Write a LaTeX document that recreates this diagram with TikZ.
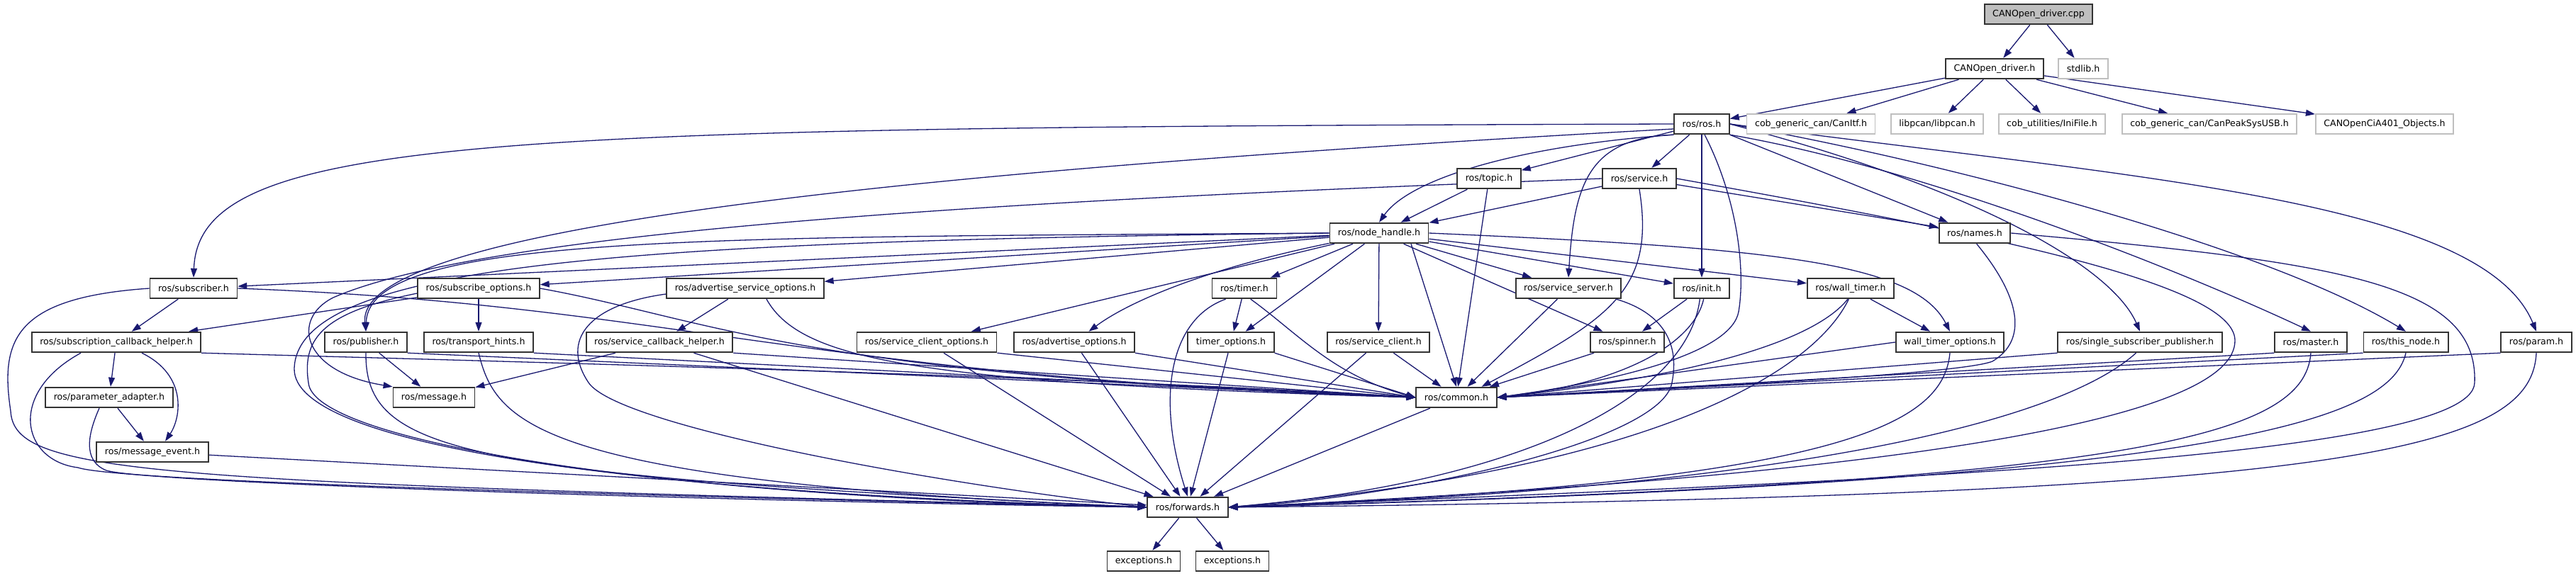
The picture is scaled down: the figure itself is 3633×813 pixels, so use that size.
\documentclass[tikz,border=0pt]{standalone}
\usepackage{fontspec}
\setmainfont{DejaVu Sans}
\usepackage{tikz}
\usetikzlibrary{arrows.meta}
\pgfdeclarelayer{background}
\pgfsetlayers{background,main}

\definecolor{edgeblue}{HTML}{191970}
\definecolor{grey75}{HTML}{BFBFBF}

\begin{document}
\begin{tikzpicture}[
        x=1pt, y=-1pt,
        file/.style={rectangle, draw=black!80, line width=1.8pt, fill=white, minimum height=28.6pt, inner xsep=11.5pt, inner ysep=0pt, font=\fontsize{12.6pt}{15pt}\selectfont},
        extfile/.style={file, draw=grey75},
        rootfile/.style={file, fill=grey75},
        arrow/.style={draw=edgeblue, line width=1.3pt, -{Triangle[length=13pt, width=9pt, fill=edgeblue]}}
    ]
        \useasboundingbox (0,0) rectangle (3633,813);

        % 1. Source file and its header
        \node (cpp) [rootfile] at (2875,20) {CANOpen\_driver.cpp};
        \node (drvh) [file] at (2813,97) {CANOpen\_driver.h};
        \node (stdlib) [extfile] at (2938,97) {stdlib.h};

        % 2. Headers of CANOpen_driver.h
        \node (rosh) [file] at (2400,175) {ros/ros.h};
        \node (canitf) [extfile] at (2554,175) {cob\_generic\_can/CanItf.h};
        \node (libpcan) [extfile] at (2732,175) {libpcan/libpcan.h};
        \node (inifile) [extfile] at (2894,175) {cob\_utilities/IniFile.h};
        \node (peak) [extfile] at (3116,175) {cob\_generic\_can/CanPeakSysUSB.h};
        \node (cia) [extfile] at (3363,175) {CANOpenCiA401\_Objects.h};

        % 3. roscpp upper layer
        \node (topic) [file] at (2100,252) {ros/topic.h};
        \node (service) [file] at (2312,252) {ros/service.h};
        \node (nh) [file] at (1945,329) {ros/node\_handle.h};
        \node (names) [file] at (2785,329) {ros/names.h};

        % 4. roscpp middle layer
        \node (sub) [file] at (273,407) {ros/subscriber.h};
        \node (subopt) [file] at (675,407) {ros/subscribe\_options.h};
        \node (advsrvopt) [file] at (1051,407) {ros/advertise\_service\_options.h};
        \node (timer) [file] at (1755,407) {ros/timer.h};
        \node (srvserver) [file] at (2212,407) {ros/service\_server.h};
        \node (init) [file] at (2400,407) {ros/init.h};
        \node (walltimer) [file] at (2610,407) {ros/wall\_timer.h};

        \node (subcb) [file] at (164,483) {ros/subscription\_callback\_helper.h};
        \node (pub) [file] at (516,483) {ros/publisher.h};
        \node (hints) [file] at (675,483) {ros/transport\_hints.h};
        \node (srvcb) [file] at (930,483) {ros/service\_callback\_helper.h};
        \node (srvcliopt) [file] at (1307,483) {ros/service\_client\_options.h};
        \node (advopt) [file] at (1515,483) {ros/advertise\_options.h};
        \node (timeropt) [file] at (1736,483) {timer\_options.h};
        \node (srvclient) [file] at (1944,483) {ros/service\_client.h};
        \node (spinner) [file] at (2295,483) {ros/spinner.h};
        \node (walltimeropt) [file] at (2750,483) {wall\_timer\_options.h};
        \node (ssp) [file] at (3018,483) {ros/single\_subscriber\_publisher.h};
        \node (master) [file] at (3259,483) {ros/master.h};
        \node (thisnode) [file] at (3393,483) {ros/this\_node.h};
        \node (param) [file] at (3577,483) {ros/param.h};

        % 5. roscpp base layer
        \node (paramad) [file] at (154,561) {ros/parameter\_adapter.h};
        \node (message) [file] at (612,561) {ros/message.h};
        \node (common) [file] at (2054,561) {ros/common.h};
        \node (msgevent) [file] at (215,638) {ros/message\_event.h};
        \node (fwd) [file] at (1675,716) {ros/forwards.h};
        \node (exc1) [file] at (1613,792) {exceptions.h};
        \node (exc2) [file] at (1738,792) {exceptions.h};

        % Connections
        \begin{pgfonlayer}{background}
        \draw [arrow] (cpp) -- (drvh);
        \draw [arrow] (cpp) -- (stdlib);
        \draw [arrow] (drvh) -- (rosh);
        \draw [arrow] (drvh) -- (canitf);
        \draw [arrow] (drvh) -- (libpcan);
        \draw [arrow] (drvh) -- (inifile);
        \draw [arrow] (drvh) -- (peak);
        \draw [arrow] (drvh) -- (cia);

        \draw [arrow] (rosh.west) .. controls (700,180) and (280,190) .. (sub.north);
        \draw [arrow] (rosh.190) .. controls (1300,240) and (500,320) .. (pub.north);
        \draw [arrow] (rosh.south west) .. controls (2150,205) and (1990,250) .. (nh.north);
        \draw [arrow] (rosh) -- (topic);
        \draw [arrow] (rosh) -- (service);
        \draw [arrow] (rosh.south west) .. controls (2240,195) and (2220,260) .. (srvserver.north);
        \draw [arrow] (rosh) -- (init);
        \draw [arrow] (rosh.-75) .. controls (2450,280) and (2462,380) .. (2452,440) .. controls (2442,495) and (2300,535) .. (common.east);
        \draw [arrow] (rosh.south east) -- (names);
        \draw [arrow] (rosh.east) .. controls (2800,270) and (2980,380) .. (ssp.north);
        \draw [arrow] (rosh.south east) .. controls (2700,235) and (3050,370) .. (master.north);
        \draw [arrow] (rosh.east) .. controls (2750,230) and (3200,350) .. (thisnode.north);
        \draw [arrow] (rosh.east) .. controls (3000,250) and (3500,280) .. (param.north);

        \draw [arrow] (topic) -- (nh);
        \draw [arrow] (topic) -- (common);
        \draw [arrow] (service) -- (nh);
        \draw [arrow] (service) -- (names);
        \draw [arrow] (service.south) .. controls (2335,410) and (2270,450) .. ([xshift=-22pt]common.north east);
        \draw [arrow] (service.east) .. controls (2800,330) and (3150,400) .. (3152,480) .. controls (3154,590) and (2700,670) .. (fwd.east);
        \draw [arrow] (service.west) .. controls (1500,280) and (700,320) .. (470,420) .. controls (410,450) and (425,525) .. (message.north west);

        \draw [arrow] (nh.west) .. controls (1000,335) and (520,330) .. (pub.north);
        \draw [arrow] (nh.west) .. controls (900,340) and (420,370) .. (415,520) .. controls (412,630) and (900,695) .. (fwd.west);
        \draw [arrow] (nh) -- (sub);
        \draw [arrow] (nh) -- (subopt);
        \draw [arrow] (nh) -- (advsrvopt);
        \draw [arrow] (nh) -- (srvcliopt);
        \draw [arrow] (nh) .. controls (1720,375) and (1600,420) .. (advopt);
        \draw [arrow] (nh) -- (timer);
        \draw [arrow] (nh) -- (timeropt);
        \draw [arrow] (nh) -- (srvclient);
        \draw [arrow] ([xshift=45pt]nh.south) -- (common.north);
        \draw [arrow] (nh) -- (srvserver);
        \draw [arrow] (nh) -- (spinner);
        \draw [arrow] (nh) -- (init);
        \draw [arrow] (nh) -- (walltimer);
        \draw [arrow] (nh.east) .. controls (2500,350) and (2700,370) .. (walltimeropt.north);

        \draw [arrow] (timer) -- (timeropt);
        \draw [arrow] (timer.-60) .. controls (1830,470) and (1880,530) .. (common.west);
        \draw [arrow] (timer.-150) .. controls (1650,450) and (1630,560) .. (fwd.north);
        \draw [arrow] (srvserver) -- (common);
        \draw [arrow] ([xshift=-8pt]srvserver.south east) .. controls (2340,440) and (2370,480) .. (2358,540) .. controls (2345,620) and (2000,700) .. (fwd.east);
        \draw [arrow] (init) -- (spinner);
        \draw [arrow] (init.-80) .. controls (2390,480) and (2300,540) .. (common.east);
        \draw [arrow] (init.-100) .. controls (2380,560) and (2150,680) .. (fwd.east);
        \draw [arrow] (walltimer) -- (walltimeropt);
        \draw [arrow] (walltimer.-105) .. controls (2560,480) and (2400,530) .. (common.east);
        \draw [arrow] (walltimer.-100) .. controls (2560,520) and (2350,660) .. (fwd.east);
        \draw [arrow] (walltimeropt.west) -- (common.east);
        \draw [arrow] (walltimeropt.south) .. controls (2740,600) and (2600,680) .. (fwd.east);
        \draw [arrow] (names.-80) .. controls (2850,420) and (2860,480) .. (2810,510) .. controls (2760,530) and (2300,550) .. (common.east);
        \draw [arrow] (names.east) .. controls (3300,370) and (3495,400) .. (3490,540) .. controls (3488,650) and (2600,680) .. (fwd.east);
        \draw [arrow] (ssp.south west) -- (common.east);
        \draw [arrow] (ssp.-110) .. controls (2900,600) and (2500,690) .. (fwd.east);
        \draw [arrow] (master.south west) -- (common.east);
        \draw [arrow] (master.south) .. controls (3250,620) and (3000,680) .. (fwd.east);
        \draw [arrow] (thisnode.south west) -- (common.east);
        \draw [arrow] (thisnode.south) .. controls (3370,600) and (3100,680) .. (fwd.east);
        \draw [arrow] (param.south west) -- (common.east);
        \draw [arrow] (param.south) .. controls (3570,640) and (3300,700) .. (fwd.east);
        \draw [arrow] (spinner) -- (common);

        \draw [arrow] (sub) -- (subcb);
        \draw [arrow] (sub.east) .. controls (950,430) and (1120,530) .. (common.west);
        \draw [arrow] (sub.west) .. controls (20,420) and (0,480) .. (15,580) .. controls (20,670) and (200,680) .. (fwd.west);
        \draw [arrow] (subcb) -- (paramad);
        \draw [arrow] ([xshift=36pt]subcb.south) .. controls (265,530) and (255,590) .. ([xshift=18pt]msgevent.north);
        \draw [arrow] (subcb.south east) .. controls (700,510) and (1500,530) .. (common.west);
        \draw [arrow] ([xshift=-50pt]subcb.south) .. controls (10,555) and (30,650) .. (110,660) .. controls (170,680) and (900,700) .. (fwd.west);
        \draw [arrow] (paramad) -- (msgevent);
        \draw [arrow] ([xshift=-14pt]paramad.south) .. controls (125,610) and (115,650) .. (150,664) .. controls (200,680) and (900,705) .. (fwd.west);
        \draw [arrow] (msgevent) -- (fwd);

        \draw [arrow] (subopt) -- (subcb);
        \draw [arrow] (subopt) -- (hints);
        \draw [arrow] (subopt.east) .. controls (1000,450) and (1120,530) .. (common.west);
        \draw [arrow] ([yshift=-7pt]subopt.west) .. controls (460,440) and (425,475) .. (435,540) .. controls (440,620) and (900,700) .. (fwd.west);
        \draw [arrow] (pub) -- (message);
        \draw [arrow] (pub.south) .. controls (515,640) and (650,670) .. (fwd.west);
        \draw [arrow] (pub.south east) -- (common.west);
        \draw [arrow] (hints.south east) -- (common.west);
        \draw [arrow] (hints.south) .. controls (700,600) and (760,680) .. (fwd.west);
        \draw [arrow] (advsrvopt) -- (srvcb);
        \draw [arrow] ([xshift=30pt]advsrvopt.south) .. controls (1130,510) and (1300,540) .. (common.west);
        \draw [arrow] ([yshift=-8pt]advsrvopt.west) .. controls (830,430) and (790,480) .. (830,540) .. controls (870,600) and (1300,680) .. (fwd.west);
        \draw [arrow] (srvcb) -- (message);
        \draw [arrow] (srvcb.south east) -- (common.west);
        \draw [arrow] (srvcb) -- (fwd);

        \draw [arrow] (srvcliopt.south east) -- (common.west);
        \draw [arrow] (srvcliopt) -- (fwd);
        \draw [arrow] (advopt.south east) -- (common.west);
        \draw [arrow] (advopt) -- (fwd);
        \draw [arrow] (timeropt.south east) -- (common.west);
        \draw [arrow] (timeropt) -- (fwd);
        \draw [arrow] (srvclient) -- (common);
        \draw [arrow] (srvclient) -- (fwd);
        \draw [arrow] (common) -- (fwd);
        \draw [arrow] (fwd) -- (exc1);
        \draw [arrow] (fwd) -- (exc2);
        \end{pgfonlayer}

\end{tikzpicture}
\end{document}
